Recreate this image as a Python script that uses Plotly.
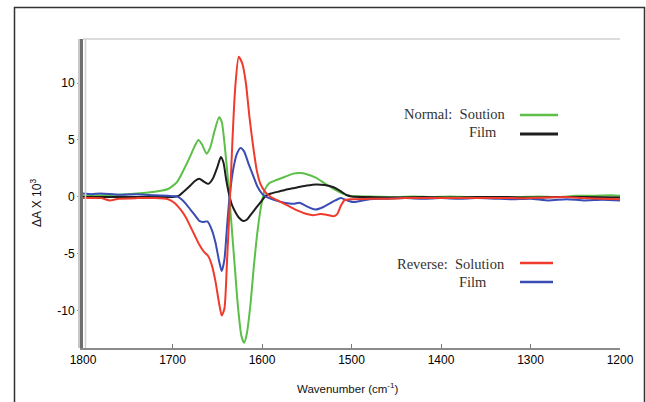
import plotly.graph_objects as go

# ---- data ----
green_wn = [1800, 1780, 1760, 1740, 1720, 1705, 1695, 1688, 1680, 1675, 1671, 1667, 1662, 1658, 1653, 1648, 1645, 1641, 1638, 1635, 1631, 1627, 1623, 1620, 1617, 1613, 1609, 1605, 1601, 1597, 1592, 1585, 1575, 1565, 1557, 1550, 1540, 1530, 1520, 1510, 1502, 1490, 1470, 1450, 1430, 1410, 1390, 1370, 1350, 1330, 1310, 1290, 1270, 1250, 1230, 1210, 1200]
green_val = [0.1, 0.15, 0.2, 0.3, 0.45, 0.7, 1.3, 2.3, 3.6, 4.5, 5.0, 4.6, 3.8, 4.3, 5.8, 7.0, 6.6, 4.0, 1.5, -1.5, -5.5, -9.5, -12.2, -12.8, -12.0, -9.5, -6.0, -3.0, -0.8, 0.6, 1.2, 1.45, 1.75, 2.05, 2.1, 2.0, 1.7, 1.2, 0.7, 0.3, 0.1, 0.05, 0.02, 0.0, 0.05, 0.0, 0.05, 0.0, 0.0, -0.05, 0.0, 0.05, 0.0, 0.1, 0.1, 0.15, 0.1]

black_wn = [1800, 1760, 1720, 1700, 1693, 1687, 1680, 1675, 1670, 1665, 1660, 1655, 1650, 1646, 1643, 1640, 1637, 1634, 1630, 1626, 1621, 1617, 1612, 1606, 1600, 1596, 1590, 1580, 1570, 1560, 1550, 1540, 1530, 1520, 1512, 1505, 1500, 1480, 1450, 1420, 1390, 1360, 1330, 1300, 1270, 1240, 1200]
black_val = [0.0, 0.0, 0.0, 0.0, 0.1, 0.5, 1.0, 1.4, 1.6, 1.35, 1.15, 1.6, 2.6, 3.5, 3.0, 1.5, 0.3, -0.6, -1.3, -1.8, -2.1, -2.0, -1.5, -0.9, -0.3, 0.1, 0.3, 0.5, 0.7, 0.85, 1.0, 1.1, 1.05, 0.85, 0.5, 0.15, 0.05, 0.0, -0.05, 0.0, -0.05, 0.0, 0.0, -0.05, 0.0, 0.0, -0.05]

red_wn = [1800, 1780, 1770, 1760, 1740, 1720, 1705, 1698, 1690, 1685, 1680, 1675, 1670, 1665, 1660, 1656, 1652, 1648, 1645, 1642, 1639, 1636, 1633, 1630, 1626, 1622, 1618, 1614, 1610, 1606, 1602, 1597, 1590, 1580, 1570, 1560, 1550, 1543, 1535, 1528, 1520, 1516, 1512, 1508, 1500, 1480, 1460, 1440, 1420, 1400, 1380, 1360, 1340, 1320, 1300, 1280, 1260, 1240, 1220, 1200]
red_val = [-0.1, -0.1, -0.3, -0.15, -0.1, -0.1, -0.2, -0.5, -1.2, -1.8, -2.6, -3.4, -4.2, -4.8, -5.2, -6.0, -7.4, -9.3, -10.4, -9.8, -5.5, -0.5, 5.0, 9.5, 12.3, 11.7, 10.0, 7.0, 4.5, 2.4, 1.2, 0.5, 0.0, -0.4, -0.8, -1.2, -1.5, -1.6, -1.5, -1.55, -1.7, -1.5, -0.8, -0.3, -0.2, -0.15, -0.15, -0.1, -0.1, -0.1, -0.1, -0.1, -0.1, -0.1, -0.1, -0.05, 0.0, -0.1, -0.15, -0.2]

blue_wn = [1800, 1790, 1780, 1760, 1740, 1720, 1705, 1695, 1690, 1685, 1680, 1675, 1670, 1666, 1661, 1656, 1652, 1648, 1645, 1642, 1639, 1636, 1632, 1628, 1624, 1620, 1615, 1610, 1605, 1600, 1595, 1585, 1575, 1565, 1558, 1553, 1545, 1540, 1532, 1525, 1518, 1512, 1505, 1498, 1490, 1480, 1460, 1440, 1420, 1400, 1380, 1360, 1340, 1320, 1300, 1280, 1260, 1240, 1220, 1200]
blue_val = [0.3, 0.25, 0.3, 0.2, 0.25, 0.15, 0.1, 0.05, -0.2, -0.6, -1.1, -1.6, -2.1, -2.2, -2.15, -2.9, -4.0, -5.6, -6.5, -5.5, -2.5, 0.2, 2.5, 3.8, 4.3, 4.0, 2.9, 1.9, 0.9, 0.3, 0.0, -0.3, -0.5, -0.6, -0.5, -0.7, -1.0, -1.1, -0.9, -0.6, -0.3, -0.1, -0.3, -0.45, -0.35, -0.2, -0.15, -0.1, -0.15, -0.1, -0.15, -0.1, -0.15, -0.2, -0.15, -0.3, -0.2, -0.3, -0.25, -0.3]

x_ticks = [1800, 1700, 1600, 1500, 1400, 1300, 1200]
y_ticks = [-10, -5, 0, 5, 10]
y_tick_labels = ["-10", "-5", "0", "5", "10"]

# ---- layout geometry (pixels) ----
W, H = 646, 402
L, R, T, B = 83, 620, 39, 348


def px(x):
    return (x - L) / (R - L)


def py(y):
    return (B - y) / (B - T)


GREEN, BLACK, RED, BLUE = "#5cbf48", "#1e1e1e", "#f03a2c", "#3a4db5"

fig = go.Figure()
for wn, val, col, name in [
    (green_wn, green_val, GREEN, "Normal Solution"),
    (black_wn, black_val, BLACK, "Normal Film"),
    (blue_wn, blue_val, BLUE, "Reverse Film"),
    (red_wn, red_val, RED, "Reverse Solution"),
]:
    fig.add_trace(go.Scatter(x=wn, y=val, mode="lines", name=name,
                             line=dict(color=col, width=2, shape="spline", smoothing=0.6),
                             showlegend=False, hoverinfo="x+y"))

fig.update_layout(
    width=W, height=H,
    margin=dict(l=L, r=W - R, t=T, b=H - B),
    paper_bgcolor="white", plot_bgcolor="white",
    font=dict(family="Liberation Sans, Arial, sans-serif", color="#000", size=12),
)
fig.update_xaxes(range=[1800, 1200], tickvals=x_ticks, ticks="inside", ticklen=4,
                 tickcolor="#777", showgrid=False, zeroline=False,
                 showline=True, linecolor="#8a8a8a", linewidth=2,
                 tickfont=dict(size=12, color="#000"))
fig.update_yaxes(range=[-13.25, 13.86], tickvals=y_ticks, ticktext=y_tick_labels,
                 ticks="outside", ticklen=3,
                 tickcolor="#8899bb", showgrid=False, zeroline=False,
                 showline=True, linecolor="#6e6e6e", linewidth=3,
                 tickfont=dict(size=12, color="#000"))

shapes = [
    # outer frame
    dict(type="rect", xref="paper", yref="paper", x0=px(14.5), x1=px(644.5), y0=py(430), y1=py(7.5),
         line=dict(color="#333", width=1.5), fillcolor="rgba(0,0,0,0)", layer="below"),
    # light top edge of plot
    dict(type="line", xref="paper", yref="paper", x0=0, x1=1, y0=1, y1=1,
         line=dict(color="#dcdcdc", width=2)),
    # light band beside y axis
    dict(type="line", xref="paper", yref="paper", x0=px(79), x1=px(79), y0=0, y1=1,
         line=dict(color="#c8c8c8", width=2)),
    dict(type="line", xref="paper", yref="paper", x0=px(85.5), x1=px(85.5), y0=0, y1=1,
         line=dict(color="#d0d0d0", width=1.5)),
    # legend lines
    dict(type="line", xref="paper", yref="paper", x0=px(520), x1=px(558), y0=py(115), y1=py(115),
         line=dict(color=GREEN, width=2.5)),
    dict(type="line", xref="paper", yref="paper", x0=px(520), x1=px(558), y0=py(134), y1=py(134),
         line=dict(color=BLACK, width=3)),
    dict(type="line", xref="paper", yref="paper", x0=px(520), x1=px(553), y0=py(263), y1=py(263),
         line=dict(color=RED, width=2.5)),
    dict(type="line", xref="paper", yref="paper", x0=px(520), x1=px(553), y0=py(282), y1=py(282),
         line=dict(color=BLUE, width=2.5)),
]

serif = dict(family="Liberation Serif, Times New Roman, serif", size=14.5, color="#333")
annotations = [
    dict(text="Normal:  Soution", x=px(507), y=py(114), xanchor="right", yanchor="middle"),
    dict(text="Film", x=px(499), y=py(132), xanchor="right", yanchor="middle"),
    dict(text="Reverse:  Solution", x=px(507), y=py(264), xanchor="right", yanchor="middle"),
    dict(text="Film", x=px(489), y=py(282), xanchor="right", yanchor="middle"),
]
for a in annotations:
    a.update(xref="paper", yref="paper", showarrow=False, font=serif)

annotations += [
    dict(text="ΔA X 10<sup>3</sup>", x=px(36), y=py(203), xref="paper", yref="paper",
         showarrow=False, textangle=-90, xanchor="center", yanchor="middle",
         font=dict(family="Liberation Sans, Arial, sans-serif", size=12, color="#111")),
    dict(text="Wavenumber (cm<sup>-1</sup>)", x=px(347), y=py(388), xref="paper", yref="paper",
         showarrow=False, xanchor="center", yanchor="middle",
         font=dict(family="Liberation Sans, Arial, sans-serif", size=11.5, color="#111")),
]

fig.update_layout(shapes=shapes, annotations=annotations)
fig.write_html("out.html", config={"displayModeBar": False},
               post_script="document.body.style.margin='0px';document.body.style.overflow='hidden';")
